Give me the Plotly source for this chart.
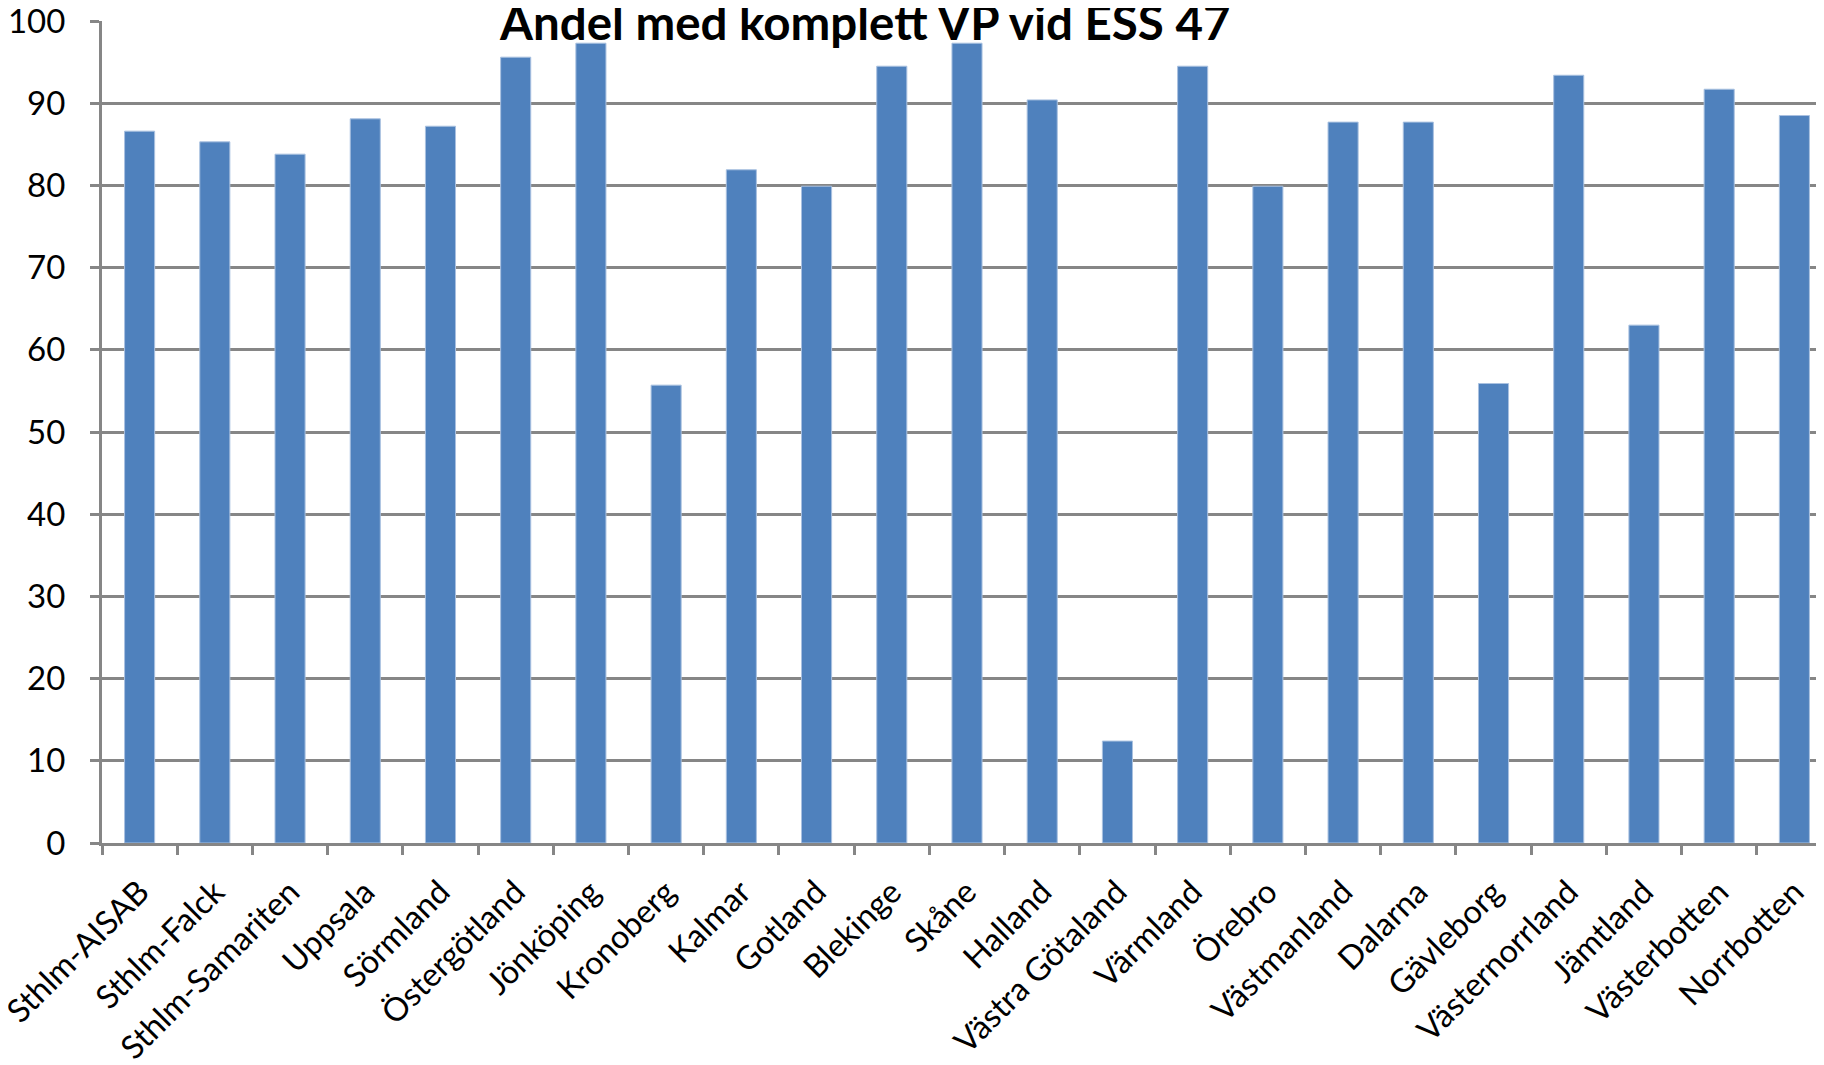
import plotly.graph_objects as go

categories = ["Sthlm-AISAB", "Sthlm-Falck", "Sthlm-Samariten", "Uppsala", "Sörmland",
              "Östergötland", "Jönköping", "Kronoberg", "Kalmar", "Gotland", "Blekinge",
              "Skåne", "Halland", "Västra Götaland", "Värmland", "Örebro", "Västmanland",
              "Dalarna", "Gävleborg", "Västernorrland", "Jämtland", "Västerbotten", "Norrbotten"]
values = [86.6, 85.3, 83.8, 88.1, 87.2, 95.6, 97.3, 55.7, 81.9, 79.9, 94.5,
          97.3, 90.4, 12.4, 94.5, 79.9, 87.7, 87.7, 55.9, 93.4, 63.0, 91.7, 88.5]
y_ticks = [0, 10, 20, 30, 40, 50, 60, 70, 80, 90, 100]
title = "Andel med komplett VP vid ESS 47"

FONT = "Lato"
GRID = "#868686"

fig = go.Figure(go.Bar(
    x=categories, y=values,
    marker=dict(color="#4F81BD", line=dict(color="#A9C1E0", width=1)),
    width=0.4,
))

fig.update_layout(
    width=1824, height=1065,
    margin=dict(l=94, r=0, t=13, b=230, pad=0),
    plot_bgcolor="white", paper_bgcolor="white",
    showlegend=False,
    font=dict(family=FONT, color="black", size=33),
    bargap=0.6,
)
fig.update_xaxes(
    type="category", tickangle=-45, tickfont=dict(size=32.5, family=FONT),
    showline=True, linecolor=GRID, linewidth=3, automargin=False,
    ticks="outside", tickson="boundaries", ticklen=9, tickcolor=GRID, tickwidth=3,
    showgrid=False, ticklabelstandoff=14, ticklabeloverflow="allow",
)
fig.update_yaxes(
    range=[0, 100], tickvals=y_ticks, tickfont=dict(size=33, family=FONT),
    showline=True, linecolor=GRID, linewidth=3, automargin=False,
    showgrid=True, gridcolor=GRID, gridwidth=3,
    ticks="outside", ticklen=9, tickcolor=GRID, tickwidth=3,
    zeroline=False, ticklabelstandoff=18, ticklabeloverflow="allow",
)
fig.add_annotation(
    text="<b>" + title + "</b>", xref="paper", yref="paper",
    x=(865 - 102) / 1730, y=1.0, xanchor="center", yanchor="middle",
    showarrow=False, font=dict(size=47.5, family=FONT, color="black"),
)
fig.write_html("out.html")
